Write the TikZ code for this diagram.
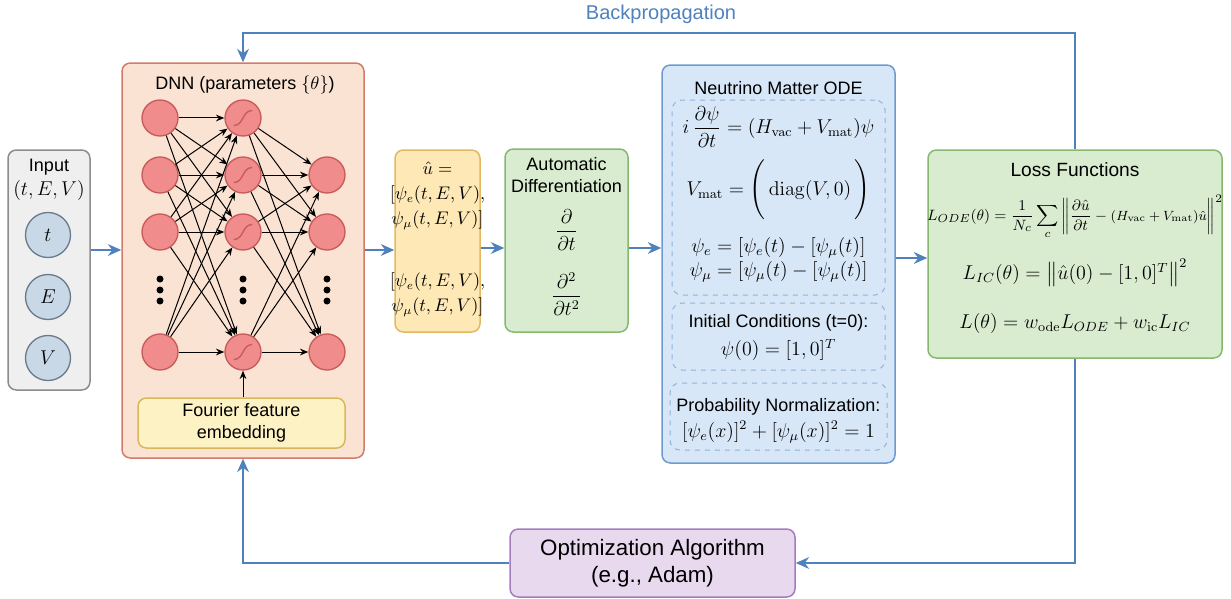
\documentclass[tikz,border=0pt]{standalone}
\usepackage{amsmath}
\usepackage[no-math]{fontspec}
\setmainfont{Liberation Sans}
\usetikzlibrary{arrows.meta, positioning, calc}

\definecolor{inputfill}{HTML}{EFEFEF}
\definecolor{inputdraw}{HTML}{8C8C8C}
\definecolor{invarfill}{HTML}{C9D8E6}
\definecolor{invardraw}{HTML}{6B7B8A}
\definecolor{dnnfill}{HTML}{FBE3D3}
\definecolor{dnndraw}{HTML}{D27B6A}
\definecolor{neuronfill}{HTML}{F08C8C}
\definecolor{neurondraw}{HTML}{C85A5A}
\definecolor{fourierfill}{HTML}{FDF2C4}
\definecolor{fourierdraw}{HTML}{D8B85A}
\definecolor{outfill}{HTML}{FDE8B6}
\definecolor{outdraw}{HTML}{E2B862}
\definecolor{greenfill}{HTML}{D9ECD0}
\definecolor{greendraw}{HTML}{86B96E}
\definecolor{odefill}{HTML}{D8E7F7}
\definecolor{odedraw}{HTML}{6D9BD0}
\definecolor{innerdraw}{HTML}{8FB3DC}
\definecolor{optfill}{HTML}{E8D9EF}
\definecolor{optdraw}{HTML}{A57CBD}
\definecolor{flowblue}{HTML}{4F81BD}

\begin{document}
\begin{tikzpicture}[
    x=0.6pt, y=-0.6pt,
    box/.style={
        rectangle,
        rounded corners=5pt,
        draw,
        line width=0.9pt,
        inner sep=0pt
    },
    inner/.style={
        rectangle,
        rounded corners=6pt,
        draw=innerdraw,
        dashed,
        line width=0.6pt,
        inner sep=0pt
    },
    neuron/.style={
        circle,
        draw=neurondraw,
        fill=neuronfill,
        line width=0.8pt,
        minimum size=21.6pt,
        inner sep=0pt
    },
    sig/.style={
        neuron,
        path picture={
            \draw[line width=0.8pt] ([xshift=-5.5pt,yshift=-4.5pt]path picture bounding box.center)
                .. controls +(6pt,0) and +(-6pt,0) ..
                ([xshift=5.5pt,yshift=4.5pt]path picture bounding box.center);
        }
    },
    invar/.style={
        circle,
        draw=invardraw,
        fill=invarfill,
        line width=0.8pt,
        minimum size=27pt,
        inner sep=0pt,
        font=\fontsize{12}{14}\selectfont
    },
    syn/.style={
        -{Stealth[length=5pt,width=4pt]},
        line width=0.6pt
    },
    flow/.style={
        -{Stealth[length=8pt,width=7pt]},
        line width=1.5pt,
        draw=flowblue
    },
    lbl/.style={
        font=\fontsize{10.8}{13}\selectfont,
        align=center,
        inner sep=0pt
    },
    eq/.style={
        font=\fontsize{12}{15}\selectfont,
        align=center,
        inner sep=0pt
    }
]
\useasboundingbox (0,0) rectangle (1231,599);

% Boxes
\node[box, fill=inputfill, draw=inputdraw, minimum width=49.2pt, minimum height=144pt] (input) at (49,270) {};
\node[box, fill=dnnfill, draw=dnndraw, minimum width=145.2pt, minimum height=237pt] (dnn) at (243,260.5) {};
\node[box, fill=fourierfill, draw=fourierdraw, minimum width=124.2pt, minimum height=30pt] (ff) at (241.5,423) {};
\node[box, fill=outfill, draw=outdraw, minimum width=51pt, minimum height=109.2pt] (out) at (437.5,241) {};
\node[box, fill=greenfill, draw=greendraw, minimum width=73.8pt, minimum height=109.8pt] (autodiff) at (566.5,240.5) {};
\node[box, fill=odefill, draw=odedraw, minimum width=139.8pt, minimum height=238.8pt] (ode) at (778.5,264) {};
\node[inner, minimum width=127.8pt, minimum height=117pt] (odeeq) at (778.5,197.5) {};
\node[inner, minimum width=127.8pt, minimum height=40.2pt] (init) at (778.5,336.5) {};
\node[inner, minimum width=130.2pt, minimum height=40.2pt] (norm) at (778.5,416.5) {};
\node[box, fill=greenfill, draw=greendraw, minimum width=176.4pt, minimum height=124.8pt] (loss) at (1075,254) {};
\node[box, fill=optfill, draw=optdraw, minimum width=171pt, minimum height=40.8pt,
      font=\fontsize{13.4}{16}\selectfont, align=center] (opt) at (652.5,563) {Optimization Algorithm\\(e.g., Adam)};

% Input
\node[lbl] (intitle) at (49,167) {Input};
\node[eq] (invec) at (49,190) {$(t,E,V)$};
\node[invar] (vt) at (48,235) {$t$};
\node[invar] (ve) at (48,297) {$E$};
\node[invar] (vv) at (48,358) {$V$};

% Network
\node[lbl] (dnntitle) at (245,85) {DNN (parameters $\{\theta\}$)};
\foreach \n/\y in {1/118, 2/175, 3/232, 4/352} {
    \node[neuron] (a\n) at (160,\y) {};
    \node[sig] (b\n) at (243,\y) {};
}
\foreach \n/\y in {1/175, 2/232, 3/352}
    \node[neuron] (c\n) at (327,\y) {};
\foreach \x in {160,243,327}
    \foreach \y in {279,290,301}
        \fill (\x,\y) circle (2.1pt);
\foreach \i in {1,...,4}
    \foreach \j in {1,...,4}
        \draw[syn] (a\i) -- (b\j);
\foreach \i in {1,...,4}
    \foreach \j in {1,...,3}
        \draw[syn] (b\i) -- (c\j);
\node[lbl] (fftext) at (241.5,423) {Fourier feature\\embedding};
\draw[syn] (ff.north -| b4) -- (b4);

% Output
\node[font=\fontsize{10.5}{15}\selectfont, align=center, inner sep=0pt] (outtop) at (437.5,196)
    {$\hat{u} =$\\$[\psi_e(t,E,V),$\\$\psi_\mu(t,E,V)]$};
\node[font=\fontsize{10.5}{15}\selectfont, align=center, inner sep=0pt] (outbot) at (437.5,295)
    {$[\psi_e(t,E,V),$\\$\psi_\mu(t,E,V)]$};

% Automatic differentiation
\node[lbl] (adtitle) at (566.5,175) {Automatic\\Differentiation};
\node[eq] (dt) at (566.5,230) {$\dfrac{\partial}{\partial t}$};
\node[eq] (dtt) at (566.5,294) {$\dfrac{\partial^2}{\partial t^2}$};

% ODE
\node[lbl] (odetitle) at (778.5,88) {Neutrino Matter ODE};
\node[eq] (schr) at (778.5,127) {$i\,\dfrac{\partial\psi}{\partial t} = (H_{\mathrm{vac}} + V_{\mathrm{mat}})\psi$};
\node[eq] (vmat) at (778.5,190) {$V_{\mathrm{mat}} = \left(\rule[-15pt]{0pt}{36pt}\,\mathrm{diag}(V,0)\,\right)$};
\node[eq] (psie) at (778.5,248) {$\psi_e = [\psi_e(t) - [\psi_\mu(t)]$};
\node[eq] (psimu) at (778.5,272) {$\psi_\mu = [\psi_\mu(t) - [\psi_\mu(t)]$};
\node[lbl] (inittitle) at (778.5,323) {Initial Conditions (t=0):};
\node[eq] (initeq) at (778.5,350) {$\psi(0) = [1,0]^T$};
\node[lbl] (normtitle) at (778.5,407) {Probability Normalization:};
\node[eq] (normeq) at (778.5,432) {$[\psi_e(x)]^2 + [\psi_\mu(x)]^2 = 1$};

% Loss
\node[lbl, font=\fontsize{11.5}{13}\selectfont] (losstitle) at (1075,170) {Loss Functions};
\node[font=\fontsize{9.5}{12}\selectfont, inner sep=0pt] (lode) at (1075,217)
    {$L_{ODE}(\theta) = \dfrac{1}{N_c}\displaystyle\sum_c \left\| \frac{\partial\hat{u}}{\partial t} - \text{\fontsize{8}{10}\selectfont$(H_{\mathrm{vac}} + V_{\mathrm{mat}})\hat{u}$} \right\|^2$};
\node[eq] (lic) at (1075,273) {$L_{IC}(\theta) = \left\|\hat{u}(0) - [1,0]^T\right\|^2$};
\node[eq] (ltot) at (1075,323) {$L(\theta) = w_{\mathrm{ode}}L_{ODE} + w_{\mathrm{ic}}L_{IC}$};

% Flow
\coordinate (lvla) at (0,250);
\coordinate (lvlb) at (0,248);
\coordinate (lvlc) at (0,258);
\coordinate (top) at (0,33);
\draw[flow] (input.east |- lvla) -- (dnn.west |- lvla);
\draw[flow] (dnn.east |- lvla) -- (out.west |- lvla);
\draw[flow] (out.east |- lvlb) -- (autodiff.west |- lvlb);
\draw[flow] (autodiff.east |- lvlb) -- (ode.west |- lvlb);
\draw[flow] (ode.east |- lvlc) -- (loss.west |- lvlc);
\draw[flow] (loss.north) -- (loss.north |- top) -| (dnn.north);
\node[font=\fontsize{12}{14}\selectfont, text=flowblue, inner sep=0pt] (backprop) at (661,14) {Backpropagation};
\draw[flow] (loss.south) |- (opt.east);
\draw[flow] (opt.west) -| (dnn.south);

\end{tikzpicture}
\end{document}
